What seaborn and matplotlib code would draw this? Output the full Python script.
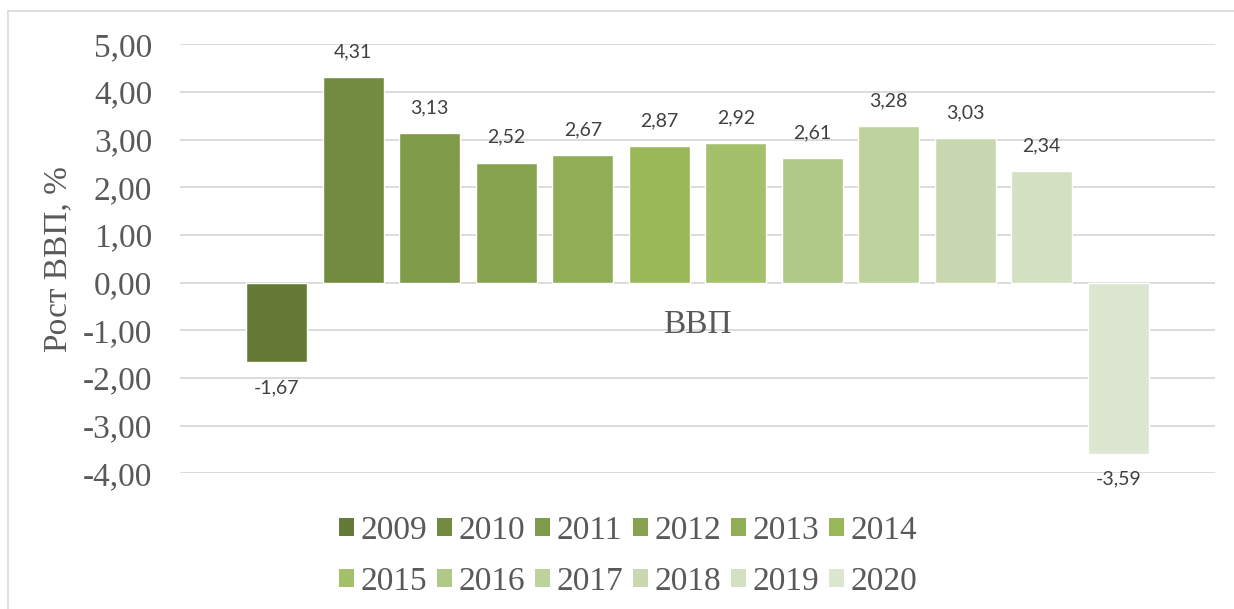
import matplotlib
matplotlib.use("Agg")
import matplotlib.pyplot as plt
from matplotlib.lines import Line2D
from matplotlib.patches import Patch
from matplotlib.ticker import FuncFormatter, MultipleLocator
import seaborn as sns
import pandas as pd

# Chart data
years = ['2009', '2010', '2011', '2012', '2013', '2014',
         '2015', '2016', '2017', '2018', '2019', '2020']
gdp_growth = [-1.67, 4.31, 3.13, 2.52, 2.67, 2.87, 2.92, 2.61, 3.28, 3.03, 2.34, -3.59]
bar_colors = ['#657A36', '#738B40', '#7F9A48', '#88A34F', '#91AE56', '#9BB858',
              '#A5C06A', '#B0C888', '#BED29E', '#C9D8B0', '#D3E0C1', '#DDE6D0']
category = 'ВВП'
y_label = 'Рост ВВП, %'

sns.set_style('white')
plt.rcParams['font.family'] = ['Liberation Serif', 'DejaVu Serif']

text_grey = '#595959'
grid_grey = '#D9D9D9'


def comma_fmt(v):
    """Format a number with a decimal comma."""
    return f'{v:.2f}'.replace('.', ',')


df = pd.DataFrame({'year': years, 'growth': gdp_growth})

fig = plt.figure(figsize=(12.34, 6.09), dpi=100)
ax = fig.add_axes([180 / 1234, 1 - 473.3 / 609, 1035 / 1234, 429 / 609])

sns.barplot(data=df, x='year', y='growth', hue='year', palette=bar_colors,
            saturation=1, width=0.8, dodge=False, legend=False, ax=ax)

# data labels
for cont in ax.containers:
    ax.bar_label(cont, fmt=comma_fmt, padding=12, fontsize=14,
                 color='#404040', family='Lato')

ax.set_ylim(-4, 5)
ax.set_xlim(-1.265, 12.265)
ax.yaxis.set_major_locator(MultipleLocator(1))
ax.yaxis.set_major_formatter(FuncFormatter(lambda v, p: comma_fmt(v)))
ax.grid(axis='y', color=grid_grey, linewidth=1.3)
ax.set_axisbelow(True)
for s in ax.spines.values():
    s.set_visible(False)
ax.tick_params(axis='y', length=0, pad=20, labelsize=24, labelcolor=text_grey)
ax.set_xticks([])
ax.set_xlabel('')
ax.set_ylabel(y_label, fontsize=24, color=text_grey)
ax.yaxis.set_label_coords(-0.1034, 0.5)

# category label below the zero line
ax.text(5.5, -0.89, category, ha='center', va='center', fontsize=24, color=text_grey)

# legend: two rows, filled row by row
handles = [Patch(facecolor=c, edgecolor='none') for c in bar_colors]
order = [i + 6 * r for i in range(6) for r in range(2)]
fig.legend([handles[i] for i in order], [years[i] for i in order],
           loc='center', bbox_to_anchor=(628 / 1234, 1 - 556 / 609), ncol=6,
           frameon=False, fontsize=24, labelcolor=text_grey,
           handlelength=0.45, handleheight=0.45, handletextpad=0.2,
           columnspacing=0.29, labelspacing=0.6)

# chart area border (top and left edges visible)
fig.add_artist(Line2D([8 / 1234, 8 / 1234], [0, 1 - 11 / 609],
                      transform=fig.transFigure, color=grid_grey, lw=1.2))
fig.add_artist(Line2D([8 / 1234, 1], [1 - 11 / 609, 1 - 11 / 609],
                      transform=fig.transFigure, color=grid_grey, lw=1.2))

fig.savefig('out.png', dpi=100)
